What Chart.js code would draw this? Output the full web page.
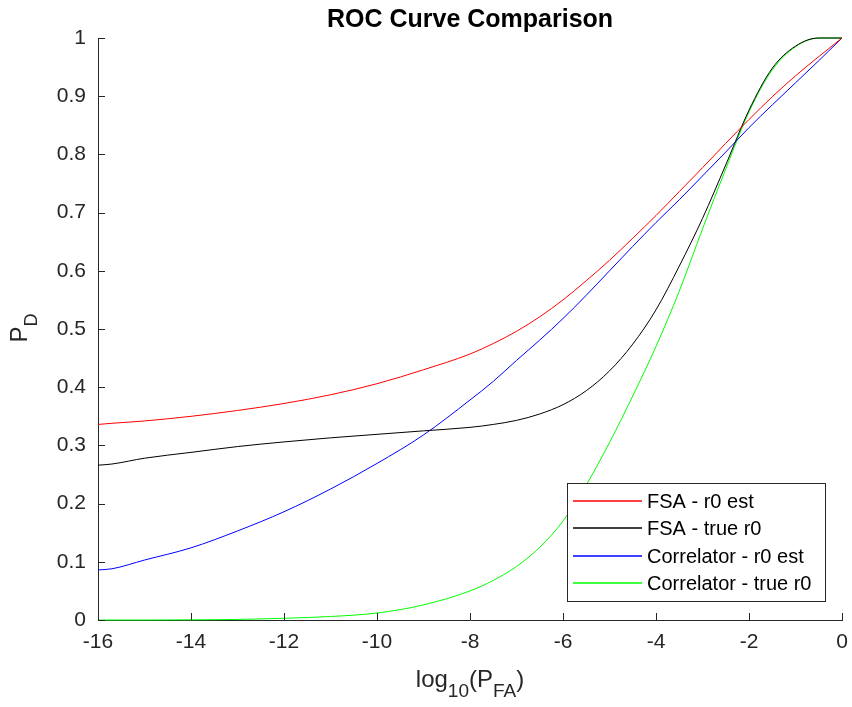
<!DOCTYPE html>
<html>
<head>
<meta charset="utf-8">
<title>ROC Curve Comparison</title>
<script src="https://cdn.jsdelivr.net/npm/chart.js@4.4.1/dist/chart.umd.min.js"></script>
<style>
  html, body { margin: 0; padding: 0; background: #fff; }
</style>
</head>
<body>
<canvas id="roc" width="852" height="707"></canvas>
<script>
// log10(P_FA) sample points shared by the four curves.
const logPfa = [-16, -15.7, -15, -14, -13, -12, -11, -10, -9, -8, -7.5, -7, -6.5, -6, -5.5, -5,
  -4.5, -4, -3.5, -3, -2.5, -2, -1.5, -1, -0.5, 0];

// P_D.
const fsaEst   = [0.336, 0.338, 0.342, 0.350, 0.360, 0.372, 0.387, 0.406, 0.430, 0.457, 0.475, 0.496, 0.521,
  0.550, 0.583, 0.618, 0.656, 0.695, 0.736, 0.777, 0.819, 0.860, 0.899, 0.935, 0.968, 1.0];
const fsaTrue  = [0.266, 0.268, 0.278, 0.288, 0.298, 0.306, 0.313, 0.319, 0.325, 0.331, 0.336, 0.343, 0.354,
  0.370, 0.394, 0.428, 0.474, 0.533, 0.608, 0.690, 0.782, 0.876, 0.948, 0.986, 1.0, 1.0];
const corrEst  = [0.086, 0.088, 0.103, 0.124, 0.153, 0.186, 0.225, 0.269, 0.318, 0.378, 0.410, 0.446, 0.481,
  0.518, 0.558, 0.600, 0.642, 0.683, 0.722, 0.763, 0.804, 0.846, 0.885, 0.923, 0.961, 1.0];
const corrTrue = [0, 0, 0, 0.0003, 0.001, 0.003, 0.006, 0.012, 0.026, 0.050, 0.068, 0.092, 0.125,
  0.170, 0.232, 0.305, 0.385, 0.470, 0.565, 0.672, 0.775, 0.873, 0.945, 0.985, 1.0, 1.0];

const seriesNames = ["FSA - r0 est", "FSA - true r0", "Correlator - r0 est", "Correlator - true r0"];
const seriesColors = ["#ff0000", "#000000", "#0000ff", "#00ff00"];
const seriesValues = [fsaEst, fsaTrue, corrEst, corrTrue];

const titleText = "ROC Curve Comparison";
const axisColor = "#262626";
const fontFamily = "'Liberation Sans', Arial, Helvetica, sans-serif";

// Draws text pieces in a row, some of them as subscripts.
function drawPieces(ctx, pieces, x, y, size, subSize, subDrop) {
  let total = 0;
  pieces.forEach(p => {
    ctx.font = (p.sub ? subSize : size) + "px " + fontFamily;
    p.w = ctx.measureText(p.t).width;
    total += p.w;
  });
  let cx = x - total / 2;
  pieces.forEach(p => {
    ctx.font = (p.sub ? subSize : size) + "px " + fontFamily;
    ctx.fillText(p.t, cx, p.sub ? y + subDrop : y);
    cx += p.w;
  });
}

// MATLAB look: inward ticks, title, sub-scripted labels and boxed legend.
const matlabDecor = {
  id: "matlabDecor",
  afterDraw(chart) {
    const ctx = chart.ctx;
    const area = chart.chartArea;
    const xs = chart.scales.x;
    const ys = chart.scales.y;
    ctx.save();

    // Inward tick marks.
    ctx.strokeStyle = axisColor;
    ctx.lineWidth = 1;
    ctx.beginPath();
    xs.ticks.forEach(t => {
      const px = Math.round(xs.getPixelForValue(t.value)) + 0.5;
      ctx.moveTo(px, area.bottom);
      ctx.lineTo(px, area.bottom - 7);
    });
    ys.ticks.forEach(t => {
      const py = Math.round(ys.getPixelForValue(t.value)) + 0.5;
      ctx.moveTo(area.left, py);
      ctx.lineTo(area.left + 7, py);
    });
    ctx.stroke();

    // Title.
    ctx.fillStyle = "#000";
    ctx.textBaseline = "alphabetic";
    ctx.textAlign = "center";
    ctx.font = "bold 25px " + fontFamily;
    ctx.fillText(titleText, (area.left + area.right) / 2, 27);

    // Axis labels.
    ctx.textAlign = "left";
    ctx.fillStyle = axisColor;
    drawPieces(ctx, [{t: "log"}, {t: "10", sub: true}, {t: "(P"}, {t: "FA", sub: true}, {t: ")"}],
      (area.left + area.right) / 2, 687, 24, 19, 10);
    ctx.save();
    ctx.translate(27, 328);
    ctx.rotate(-Math.PI / 2);
    drawPieces(ctx, [{t: "P"}, {t: "D", sub: true}], 0, 0, 24, 18, 10);
    ctx.restore();

    // Legend.
    const box = {x: 567.5, y: 483.5, w: 258, h: 118};
    ctx.fillStyle = "#fff";
    ctx.fillRect(box.x, box.y, box.w, box.h);
    ctx.strokeStyle = axisColor;
    ctx.lineWidth = 1;
    ctx.strokeRect(box.x, box.y, box.w, box.h);
    ctx.font = "20px " + fontFamily;
    ctx.textBaseline = "middle";
    chart.data.datasets.forEach((ds, i) => {
      const rowY = Math.round(501 + i * 27.3);
      ctx.strokeStyle = ds.borderColor;
      ctx.lineWidth = 1.6;
      ctx.beginPath();
      ctx.moveTo(573, rowY);
      ctx.lineTo(642, rowY);
      ctx.stroke();
      ctx.fillStyle = "#000";
      ctx.fillText(ds.label, 647, rowY + 1);
    });
    ctx.restore();
  }
};

const tickFont = { family: fontFamily, size: 21 };

new Chart(document.getElementById("roc"), {
  type: "scatter",
  data: {
    datasets: seriesNames.map((name, i) => ({
      label: name,
      data: logPfa.map((x, j) => ({ x: x, y: seriesValues[i][j] })),
      showLine: true,
      borderColor: seriesColors[i],
      borderWidth: 1,
      pointRadius: 0,
      cubicInterpolationMode: "monotone",
      clip: false,
      fill: false
    }))
  },
  options: {
    responsive: false,
    animation: false,
    devicePixelRatio: 1,
    layout: { padding: { top: 38, right: 10, left: 0, bottom: 0 } },
    plugins: {
      legend: { display: false },
      tooltip: { enabled: false },
      title: { display: false }
    },
    scales: {
      x: {
        type: "linear",
        min: -16,
        max: 0,
        ticks: { stepSize: 2, color: axisColor, font: tickFont, padding: 10, maxRotation: 0 },
        grid: { display: false, drawTicks: false },
        border: { display: true, color: axisColor, width: 1 },
        afterFit: s => { s.height = 87; s.paddingLeft = 0; s.paddingRight = 0; }
      },
      y: {
        type: "linear",
        min: 0,
        max: 1,
        ticks: { stepSize: 0.1, color: axisColor, font: tickFont, padding: 12,
          callback: v => String(+v.toFixed(1)) },
        grid: { display: false, drawTicks: false },
        border: { display: true, color: axisColor, width: 1 },
        afterFit: s => { s.width = 98; }
      }
    }
  },
  plugins: [matlabDecor]
});
</script>
</body>
</html>
